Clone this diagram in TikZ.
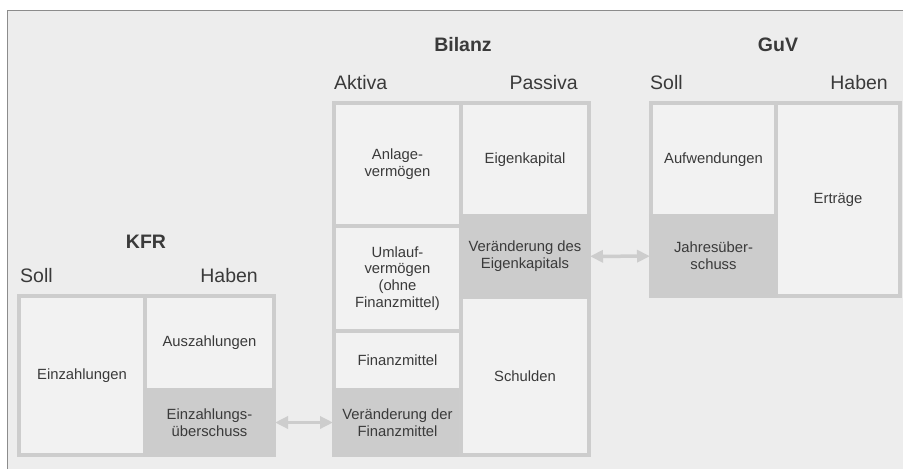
\documentclass[tikz,border=0pt]{standalone}
\usepackage{fontspec}
\setmainfont{Liberation Sans}
\usetikzlibrary{arrows.meta}

\definecolor{bggray}{HTML}{EDEDED}
\definecolor{framegray}{HTML}{8C8C8C}
\definecolor{cellfill}{HTML}{F2F2F2}
\definecolor{linegray}{HTML}{CDCDCD}
\definecolor{shadegray}{HTML}{CCCCCC}
\definecolor{txtgray}{HTML}{3A3A3A}

\tikzset{
  cellbox/.style={draw=linegray, line width=4pt, fill=cellfill, outer sep=0pt,
    inner sep=0pt, anchor=north west, align=center, text=txtgray,
    font=\fontsize{14.8}{16.7}\selectfont},
  shadebox/.style={cellbox, draw=shadegray, fill=shadegray},
  head/.style={text=txtgray, inner sep=0pt, font=\fontsize{19.5}{22}\selectfont},
  title/.style={head, font=\fontsize{19.5}{22}\selectfont\bfseries},
  flow/.style={draw=linegray, line width=3.5pt,
    {Triangle[length=13pt,width=12pt]}-{Triangle[length=13pt,width=12pt]},
    shorten <=1pt, shorten >=1pt}
}

\begin{document}
\begin{tikzpicture}[x=1pt,y=-1pt]
\useasboundingbox (0,0) rectangle (903,469);
\fill[bggray] (7,10) rectangle (903,469);
\draw[framegray, line width=1.5pt] (7.5,469) -- (7.5,10.5) -- (903,10.5);

% KFR
\node[title, anchor=base] (kfrtitle) at (146,248) {KFR};
\node[head, anchor=base west] (kfrsoll) at (20,282) {Soll};
\node[head, anchor=base east] (kfrhaben) at (258,282) {Haben};
\node[cellbox, minimum width=126pt, minimum height=159pt] (einz) at (19,296) {Einzahlungen};
\node[cellbox, minimum width=129pt, minimum height=94pt] (ausz) at (145,296) {Auszahlungen};
\node[shadebox, minimum width=129pt, minimum height=65pt] (einzu) at (145,390) {Einzahlungs-\\überschuss};

% Bilanz
\node[title, anchor=base] (bilanztitle) at (463,51) {Bilanz};
\node[head, anchor=base west] (aktiva) at (334,89) {Aktiva};
\node[head, anchor=base east] (passiva) at (578,89) {Passiva};
\node[cellbox, minimum width=127pt, minimum height=123pt] (anlage) at (334,103) {Anlage-\\vermögen};
\node[cellbox, minimum width=127pt, minimum height=105pt] (umlauf) at (334,226) {Umlauf-\\vermögen\\(ohne\\Finanzmittel)};
\node[cellbox, minimum width=127pt, minimum height=59pt] (finanz) at (334,331) {Finanzmittel};
\node[shadebox, minimum width=127pt, minimum height=65pt] (verfin) at (334,390) {Veränderung der\\Finanzmittel};
\node[cellbox, minimum width=128pt, minimum height=113pt] (ek) at (461,103) {Eigenkapital};
\node[cellbox, minimum width=128pt, minimum height=158pt] (schulden) at (461,297) {Schulden};
\node[shadebox, minimum width=128pt, minimum height=81pt] (verek) at (461,216) {Veränderung des\\Eigenkapitals};

% GuV
\node[title, anchor=base] (guvtitle) at (778,51) {GuV};
\node[head, anchor=base west] (guvsoll) at (650,89) {Soll};
\node[head, anchor=base east] (guvhaben) at (888,89) {Haben};
\node[cellbox, minimum width=125pt, minimum height=113pt] (aufw) at (651,103) {Aufwendungen};
\node[cellbox, minimum width=124pt, minimum height=193pt] (ertr) at (776,103) {Erträge};
\node[shadebox, minimum width=125pt, minimum height=80pt] (jue) at (651,216) {Jahresüber-\\schuss};

\draw[flow] (einzu) -- (verfin);
\draw[flow] (verek) -- (jue);
\end{tikzpicture}
\end{document}
